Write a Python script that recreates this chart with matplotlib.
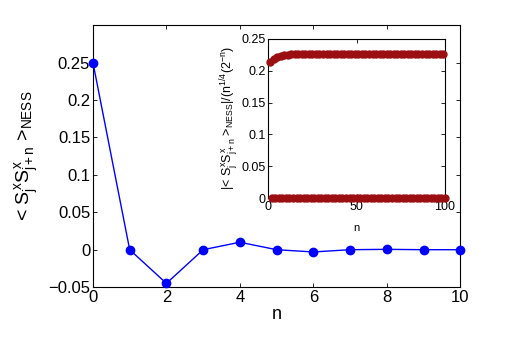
"""
Correlation <SxSx>_NESS versus distance n, with scaled inset.
"""
import matplotlib

matplotlib.use("Agg")

import matplotlib.pyplot as plt

plt.rcParams["font.family"] = ["Liberation Sans", "DejaVu Sans"]
plt.rcParams["mathtext.fontset"] = "custom"
plt.rcParams["mathtext.rm"] = "Liberation Sans"
plt.rcParams["mathtext.it"] = "Liberation Sans"
plt.rcParams["mathtext.bf"] = "Liberation Sans:bold"

# main panel data
n_main = [0, 1, 2, 3, 4, 5, 6, 7, 8, 9, 10]
corr_main = [0.25, 0.0, -0.045, 0.0, 0.01, 0.0, -0.003, 0.0, 0.0005, 0.0, 0.0]

# inset data: odd n -> saturating branch, even n -> zero branch
n_odd = list(range(1, 101, 2))
scaled_odd = [
    0.213, 0.219, 0.222, 0.2235, 0.2245, 0.225, 0.2255, 0.2258, 0.226, 0.2262,
    0.2263, 0.2264, 0.2265, 0.2266, 0.2266, 0.2267, 0.2267, 0.2268, 0.2268, 0.2268,
    0.2269, 0.2269, 0.2269, 0.2269, 0.227, 0.227, 0.227, 0.227, 0.227, 0.227,
    0.227, 0.227, 0.227, 0.227, 0.227, 0.227, 0.227, 0.227, 0.227, 0.227,
    0.227, 0.227, 0.227, 0.227, 0.227, 0.227, 0.227, 0.227, 0.227, 0.227,
]
n_even = list(range(2, 101, 2))
scaled_even = [0.0] * len(n_even)

BLUE = "#0000ff"
DARK_RED = "#9b0f12"


def style_axes(ax, size):
    ax.tick_params(direction="in", top=True, right=True, labelsize=size,
                   length=3, width=0.6, pad=2)
    for sp in ax.spines.values():
        sp.set_linewidth(0.8)


fig = plt.figure(figsize=(5.08, 3.41), dpi=100)

ax = fig.add_axes([0.183, 0.158, 0.723, 0.768])
ax.plot(n_main, corr_main, "-o", color=BLUE, lw=1.0, ms=6, clip_on=False, zorder=3)
ax.set_xlim(0, 10)
ax.set_ylim(-0.05, 0.3)
ax.set_xticks([0, 2, 4, 6, 8, 10])
ax.set_yticks([-0.05, 0, 0.05, 0.1, 0.15, 0.2, 0.25])
ax.set_yticklabels(["\u22120.05", "0", "0.05", "0.1", "0.15", "0.2", "0.25"])
style_axes(ax, 12)
ax.set_xlabel("n", fontsize=13, labelpad=1)
ax.set_ylabel(r"< $S^x_jS^x_{j+n}$ >$_{NESS}$", fontsize=14, labelpad=5)

ins = fig.add_axes([0.528, 0.419, 0.348, 0.467])
ins.plot(n_odd, scaled_odd, "o", color=DARK_RED, ms=5, clip_on=False, zorder=3)
ins.plot(n_even, scaled_even, "o", color=DARK_RED, ms=5, clip_on=False, zorder=3)
ins.set_xlim(0, 100)
ins.set_ylim(0, 0.25)
ins.set_xticks([0, 50, 100])
ins.set_yticks([0, 0.05, 0.1, 0.15, 0.2, 0.25])
ins.set_yticklabels(["0", "0.05", "0.1", "0.15", "0.2", "0.25"])
style_axes(ins, 9)
ins.set_xlabel("n", fontsize=8, labelpad=7)
ins.set_ylabel(r"|< $S^x_jS^x_{j+n}$ >$_{NESS}$|/(n$^{1/4}$(2$^{-n}$)",
               fontsize=9, labelpad=1)

fig.savefig("out.png", dpi=100)
